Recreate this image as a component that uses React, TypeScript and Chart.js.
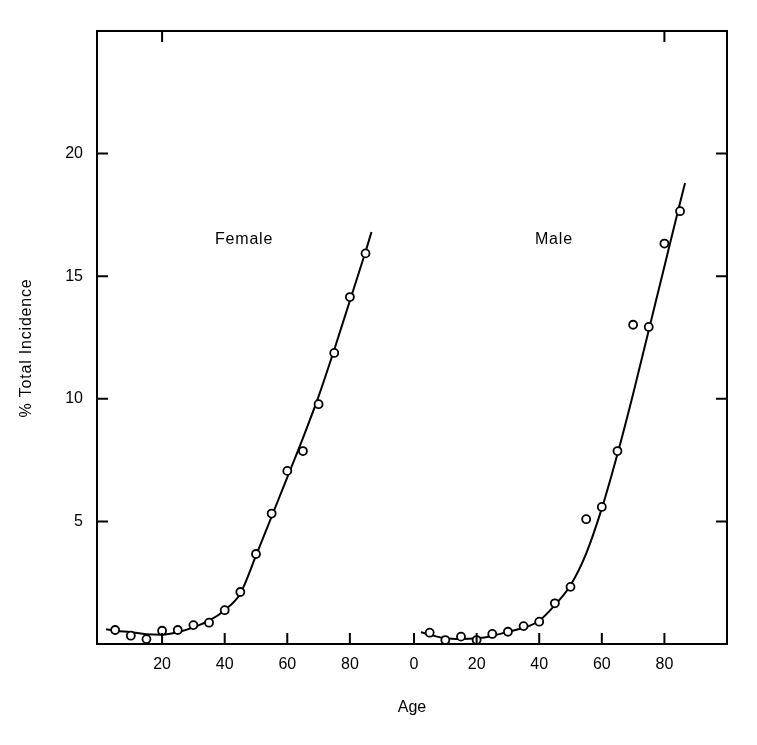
import React, { useEffect, useRef } from 'react';
import { Chart, registerables } from 'chart.js';

Chart.register(...registerables);

// Observed points (age group midpoints) per panel
const ages = [5, 10, 15, 20, 25, 30, 35, 40, 45, 50, 55, 60, 65, 70, 75, 80, 85];
const femaleIncidence = [0.57, 0.34, 0.2, 0.54, 0.57, 0.77, 0.87, 1.38, 2.12, 3.67, 5.32, 7.06, 7.87, 9.78, 11.87, 14.15, 15.93];
const maleIncidence = [0.46, 0.16, 0.3, 0.16, 0.41, 0.5, 0.73, 0.91, 1.66, 2.33, 5.09, 5.59, 7.87, 13.02, 12.93, 16.33, 17.65];

// Fitted curves
const femaleFitAges = [2.1, 5, 10, 15, 20, 25, 30, 35, 40, 45, 50, 55, 60, 65, 70, 75, 80, 85, 86.9];
const femaleFitValues = [0.6, 0.54, 0.48, 0.4, 0.38, 0.48, 0.68, 0.95, 1.38, 2.06, 3.6, 5.2, 6.8, 8.4, 10.1, 12.0, 14.0, 16.0, 16.8];
const maleFitAges = [2.2, 5, 10, 15, 20, 25, 30, 35, 40, 45, 50, 55, 60, 65, 70, 75, 80, 85, 86.6];
const maleFitValues = [0.48, 0.38, 0.23, 0.2, 0.23, 0.33, 0.5, 0.66, 0.95, 1.59, 2.4, 3.69, 5.53, 7.75, 10.2, 12.8, 15.4, 18.0, 18.8];

// Axis ticks
const femaleAgeTicks = [20, 40, 60, 80];
const maleAgeTicks = [0, 20, 40, 60, 80];
const incidenceTicks = [5, 10, 15, 20];
const topTickMarks = [20, 180.5];

// Male panel sits to the right of the female panel on the shared age axis
const MALE_OFFSET = 100.5;

const xTickValues = [...femaleAgeTicks, ...maleAgeTicks.map((a) => a + MALE_OFFSET)];

const panelLabels = [
  { text: 'Female', x: 46.2, y: 16.5 },
  { text: 'Male', x: 44.7 + MALE_OFFSET, y: 16.5 },
];

const FONT = '"Liberation Sans", Arial, Helvetica, sans-serif';

const framePlugin = {
  id: 'frameTicks',
  afterDatasetsDraw(chart: any) {
    const { ctx, chartArea, scales } = chart;
    const { left, right, top, bottom } = chartArea;
    const x = scales.x;
    const y = scales.y;
    const tl = 11;
    ctx.save();
    ctx.strokeStyle = '#000';
    ctx.lineWidth = 2;
    ctx.beginPath();
    ctx.rect(left, top, right - left, bottom - top);
    ctx.stroke();
    ctx.beginPath();
    xTickValues.forEach((v) => {
      const px = x.getPixelForValue(v);
      ctx.moveTo(px, bottom);
      ctx.lineTo(px, bottom - tl);
    });
    topTickMarks.forEach((v) => {
      const px = x.getPixelForValue(v);
      ctx.moveTo(px, top);
      ctx.lineTo(px, top + tl);
    });
    incidenceTicks.forEach((v) => {
      const py = y.getPixelForValue(v);
      ctx.moveTo(left, py);
      ctx.lineTo(left + tl, py);
      ctx.moveTo(right, py);
      ctx.lineTo(right - tl, py);
    });
    ctx.stroke();

    // texts
    ctx.fillStyle = '#000';
    ctx.font = `16px ${FONT}`;
    (ctx as any).letterSpacing = '0.8px';
    ctx.textAlign = 'center';
    ctx.textBaseline = 'middle';
    panelLabels.forEach((l) => {
      ctx.fillText(l.text, x.getPixelForValue(l.x), y.getPixelForValue(l.y));
    });
    ctx.translate(27, 348);
    ctx.rotate(-Math.PI / 2);
    ctx.fillText('% Total Incidence', 0, 0);
    ctx.restore();
  },
};

export default function App() {
  const canvasRef = useRef<HTMLCanvasElement | null>(null);

  useEffect(() => {
    const canvas = canvasRef.current;
    if (!canvas) return;
    const pointStyle = {
      pointRadius: 4,
      pointBorderWidth: 1.8,
      pointBackgroundColor: '#fff',
      pointBorderColor: '#000',
      showLine: false,
      order: 0,
    };
    const lineStyle = {
      showLine: true,
      borderColor: '#000',
      borderWidth: 2,
      pointRadius: 0,
      cubicInterpolationMode: 'monotone' as const,
      order: 1,
    };
    const chart = new Chart(canvas, {
      type: 'scatter',
      data: {
        datasets: [
          {
            label: 'Female observed',
            data: ages.map((a, i) => ({ x: a, y: femaleIncidence[i] })),
            ...pointStyle,
          },
          {
            label: 'Male observed',
            data: ages.map((a, i) => ({ x: a + MALE_OFFSET, y: maleIncidence[i] })),
            ...pointStyle,
          },
          {
            label: 'Female fit',
            data: femaleFitAges.map((a, i) => ({ x: a, y: femaleFitValues[i] })),
            ...lineStyle,
          },
          {
            label: 'Male fit',
            data: maleFitAges.map((a, i) => ({ x: a + MALE_OFFSET, y: maleFitValues[i] })),
            ...lineStyle,
          },
        ] as any,
      },
      options: {
        animation: false,
        responsive: false,
        devicePixelRatio: 1,
        layout: { padding: { top: 31, right: 30, left: 0, bottom: 0 } },
        plugins: {
          legend: { display: false },
          tooltip: { enabled: false },
        },
        scales: {
          x: {
            type: 'linear',
            min: -0.8,
            max: 200.5,
            grid: { display: false, drawTicks: false },
            border: { display: false },
            afterBuildTicks: (scale: any) => {
              scale.ticks = xTickValues.map((v) => ({ value: v }));
            },
            afterFit: (scale: any) => {
              scale.height = 101;
            },
            ticks: {
              autoSkip: false,
              maxRotation: 0,
              padding: 11,
              color: '#000',
              font: { family: FONT, size: 16 },
              callback: (v: any) => String(v >= MALE_OFFSET - 1 ? Math.round(v - MALE_OFFSET) : v),
            },
            title: {
              display: true,
              text: 'Age',
              color: '#000',
              font: { family: FONT, size: 16 },
              padding: { top: 0, bottom: 28 },
            },
          },
          y: {
            type: 'linear',
            min: 0,
            max: 25,
            grid: { display: false, drawTicks: false },
            border: { display: false },
            afterBuildTicks: (scale: any) => {
              scale.ticks = incidenceTicks.map((v) => ({ value: v }));
            },
            afterFit: (scale: any) => {
              scale.width = 97;
            },
            ticks: {
              padding: 14,
              color: '#000',
              font: { family: FONT, size: 16 },
            },
          },
        },
      },
      plugins: [framePlugin],
    });
    return () => chart.destroy();
  }, []);

  return (
    <div style={{ position: 'absolute', left: 0, top: 0, width: 757, height: 745, background: '#fff' }}>
      <canvas ref={canvasRef} width={757} height={745} style={{ display: 'block' }} />
    </div>
  );
}
